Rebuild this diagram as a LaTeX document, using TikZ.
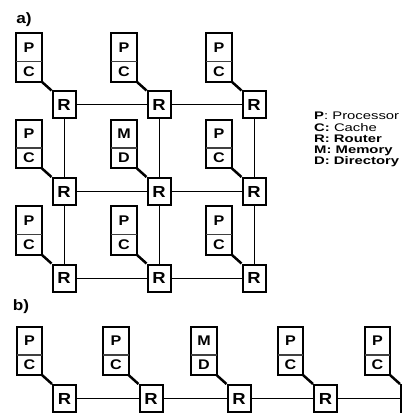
\documentclass[tikz,border=0pt]{standalone}
\usepackage{fontspec}
\setmainfont{Liberation Sans}
\newfontfamily\boxfont{Liberation Sans}[FakeStretch=1.15]
\newfontfamily\legfont{Liberation Sans}[FakeStretch=1.35]
\begin{document}
\begin{tikzpicture}[x=1pt,y=-1pt,
  rbox/.style={draw, line width=2pt, minimum width=23pt, minimum height=27pt, inner sep=0pt, fill=white, font=\boxfont\bfseries\fontsize{16}{16}\selectfont},
  cell/.style={minimum width=25pt, inner sep=0pt, font=\boxfont\bfseries\fontsize{14}{14}\selectfont},
  boxline/.style={line width=2pt},
  divline/.style={line width=1.5pt, black!75},
  diag/.style={line width=2.5pt},
  link/.style={line width=1pt},
  lbl/.style={font=\boxfont\bfseries\fontsize{15}{15}\selectfont, inner sep=0pt},
  leg/.style={anchor=west, inner sep=0pt, font=\legfont\fontsize{11}{11}\selectfont}]
\useasboundingbox (0,0) rectangle (401,414);
\newcommand\mymodule[5]{%
  \node[cell, minimum height=28pt] (t#1) at (#2-35, #3-57.5) {#4};
  \node[cell, minimum height=20pt] (b#1) at (#2-35, #3-33.5) {#5};
  \draw[boxline] (t#1.north west) rectangle (b#1.south east);
  \draw[divline] (t#1.south west) -- (t#1.south east);
  \node[rbox] (r#1) at (#2,#3) {R};
  \draw[diag] (b#1.south east) -- (r#1.north west);
}
% labels
\node[lbl] (la) at (24,19.5) {a)};
\node[lbl] (lb) at (21,307) {b)};
% part a
\mymodule{11}{64}{105}{P}{C}
\mymodule{12}{159}{105}{P}{C}
\mymodule{13}{254}{105}{P}{C}
\mymodule{21}{64}{191.5}{P}{C}
\mymodule{22}{159}{191.5}{M}{D}
\mymodule{23}{254}{191.5}{P}{C}
\mymodule{31}{64}{278}{P}{C}
\mymodule{32}{159}{278}{P}{C}
\mymodule{33}{254}{278}{P}{C}
\foreach \r in {1,2,3}{
  \draw[link] (r\r1.east) -- (r\r2.west);
  \draw[link] (r\r2.east) -- (r\r3.west);
}
\foreach \c in {1,2,3}{
  \draw[link] (r1\c.south) -- (r2\c.north);
  \draw[link] (r2\c.south) -- (r3\c.north);
}
% legend
\node[leg] (l1) at (314,116) {\textbf{P}: Processor};
\node[leg] (l2) at (314,127.5) {\textbf{C:} Cache};
\node[leg] (l3) at (314,139) {\textbf{R: Router}};
\node[leg] (l4) at (314,150.5) {\textbf{M: Memory}};
\node[leg] (l5) at (314,162) {\textbf{D: Directory}};
% part b
\mymodule{b1}{64.5}{398.5}{P}{C}
\mymodule{b2}{151}{398.5}{P}{C}
\mymodule{b3}{239}{398.5}{M}{D}
\mymodule{b4}{325.5}{398.5}{P}{C}
\node[cell, minimum height=28pt] (tb5) at (412.5-35, 398.5-57.5) {P};
\node[cell, minimum height=20pt] (bb5) at (412.5-35, 398.5-33.5) {C};
\draw[boxline] (tb5.north west) rectangle (bb5.south east);
\draw[divline] (tb5.south west) -- (tb5.south east);
\node[rbox] (rb5) at (412.5,398.5) {};
\draw[diag] (bb5.south east) -- (rb5.north west);
\draw[link] (rb1.east) -- (rb2.west);
\draw[link] (rb2.east) -- (rb3.west);
\draw[link] (rb3.east) -- (rb4.west);
\draw[link] (rb4.east) -- (rb5.west);
\end{tikzpicture}
\end{document}
